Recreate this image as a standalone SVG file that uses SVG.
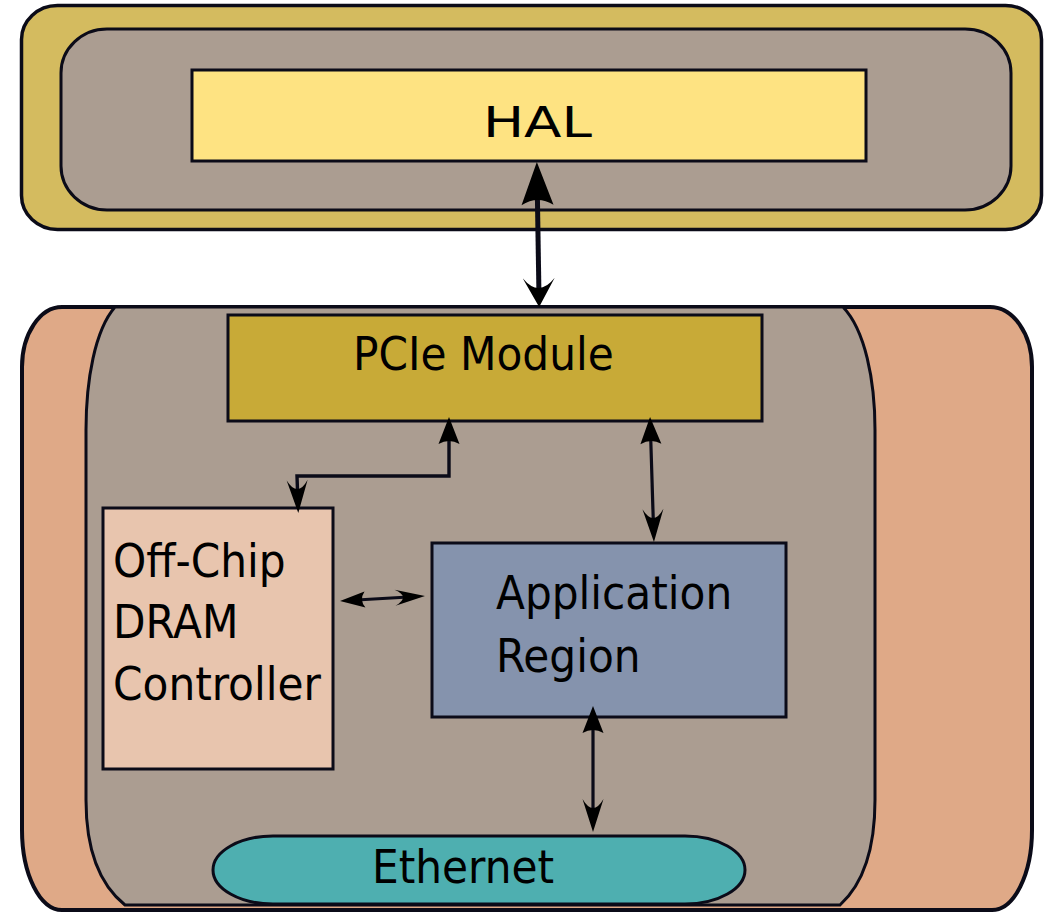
<svg xmlns="http://www.w3.org/2000/svg" width="1045" height="913" viewBox="0 0 1045 913">
<style>
.ln{stroke:#0b0b18;fill:none}
.bx{stroke:#0b0b18;stroke-width:3}
.t{font-family:"DejaVu Sans Condensed","DejaVu Sans",sans-serif;font-stretch:condensed;font-size:47px;fill:#000}
.hd{fill:#000}
</style>
<defs>
<marker id="mHT" markerUnits="userSpaceOnUse" viewBox="-40 -20 55 40" refX="0" refY="0" markerWidth="55" markerHeight="40" orient="auto-start-reverse"><path class="hd" d="M10,0 L-33,-16 Q-23,0 -33,16 Z"/></marker>
<marker id="mHB" markerUnits="userSpaceOnUse" viewBox="-30 -20 45 40" refX="0" refY="0" markerWidth="45" markerHeight="40" orient="auto-start-reverse"><path class="hd" d="M10,0 L-19,-16 Q1,0 -19,16 Z"/></marker>
<marker id="mS" markerUnits="userSpaceOnUse" viewBox="-30 -15 45 30" refX="0" refY="0" markerWidth="45" markerHeight="30" orient="auto-start-reverse"><path class="hd" d="M8,0 L-19,-10.5 Q-13,0 -19,10.5 Z"/></marker>
<marker id="mE" markerUnits="userSpaceOnUse" viewBox="-30 -15 45 30" refX="0" refY="0" markerWidth="45" markerHeight="30" orient="auto-start-reverse"><path class="hd" d="M8,0 L-25,-10.5 Q-7,0 -25,10.5 Z"/></marker>
<marker id="mSs" markerUnits="userSpaceOnUse" viewBox="-30 -15 45 30" refX="0" refY="0" markerWidth="45" markerHeight="30" orient="auto-start-reverse"><path class="hd" d="M8,0 L-17,-8 Q-11,0 -17,8 Z"/></marker>
<marker id="mEs" markerUnits="userSpaceOnUse" viewBox="-30 -15 45 30" refX="0" refY="0" markerWidth="45" markerHeight="30" orient="auto-start-reverse"><path class="hd" d="M8,0 L-22,-8 Q-6,0 -22,8 Z"/></marker>
</defs>
<g id="host">
<rect x="21.5" y="5.5" width="1020" height="224" rx="36" ry="34" fill="#d4bb5f" stroke="#0b0b18" stroke-width="3.5"/>
<rect x="61" y="29" width="950" height="181" rx="46" ry="44" fill="#ab9d91" class="bx"/>
</g>
<g id="hal">
<rect x="192" y="70" width="674" height="91" fill="#fee382" class="bx"/>
<text x="483" y="137" style="font-family:'DejaVu Sans',sans-serif;font-size:42px" textLength="109" lengthAdjust="spacingAndGlyphs">HAL</text>
</g>
<g id="fpga">
<path d="M62,307 L990,307 A42,60 0 0 1 1032,367 L1032,830 A40,80 0 0 1 992,910 L62,910 A40,80 0 0 1 22,830 L22,367 A40,60 0 0 1 62,307 Z" fill="#dfa987" stroke="#0b0b18" stroke-width="4"/>
<path d="M115,307 L843,307 C865,330 875,380 875,430 L875,800 C875,850 862,885 840,905 L125,905 C100,885 86,850 86,800 L86,430 C86,380 95,330 115,307 Z" fill="#ab9d91" class="bx"/>
</g>
<g id="pcie">
<rect x="228" y="315" width="534" height="106" fill="#c8aa37" class="bx"/>
<text class="t" x="353" y="370">PCIe Module</text>
</g>
<g id="dram">
<rect x="103" y="508" width="230" height="261" fill="#e8c5ae" class="bx"/>
<text class="t" x="113" y="577">Off-Chip</text>
<text class="t" x="113" y="638">DRAM</text>
<text class="t" x="113" y="700">Controller</text>
</g>
<g id="app">
<rect x="432" y="543" width="354" height="174" fill="#8593ad" class="bx"/>
<text class="t" x="496" y="609">Application</text>
<text class="t" x="496" y="672">Region</text>
</g>
<g id="ethernet">
<rect x="213" y="836" width="532" height="68" rx="60" ry="34" fill="#4eafb0" class="bx"/>
<text class="t" x="372" y="883">Ethernet</text>
</g>
<g id="connectors">
<path class="ln" stroke-width="5" d="M537,172 L539,297" marker-start="url(#mHT)" marker-end="url(#mHB)"/>
<path class="ln" stroke-width="3.4" d="M449,425 L449,476 L297,476 L298,505" marker-start="url(#mS)" marker-end="url(#mE)"/>
<path class="ln" stroke-width="3.2" d="M650.3,425 L653.7,534" marker-start="url(#mS)" marker-end="url(#mE)"/>
<path class="ln" stroke-width="3.2" d="M348,600.5 L417,596.5" marker-start="url(#mSs)" marker-end="url(#mEs)"/>
<path class="ln" stroke-width="3.2" d="M593,714 L593,824" marker-start="url(#mS)" marker-end="url(#mE)"/>
</g>
</svg>
